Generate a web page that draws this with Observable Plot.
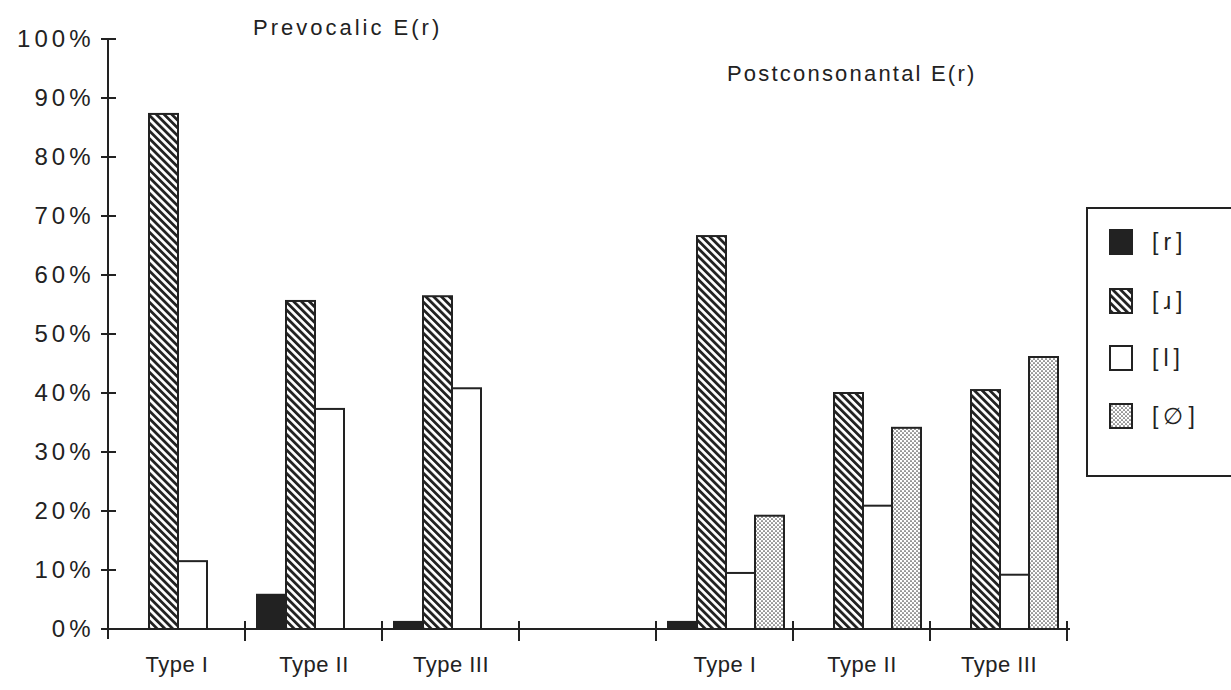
<!DOCTYPE html>
<html>
<head>
<meta charset="utf-8">
<script src="https://cdn.jsdelivr.net/npm/d3@7"></script>
<script src="https://cdn.jsdelivr.net/npm/@observablehq/plot@0.6"></script>
<style>
  body { margin: 0; background: #fff; }
  #wrap { position: relative; width: 1231px; height: 690px; overflow: hidden; font-family: "Liberation Sans", Arial, sans-serif; color: #222; }
  #chart { position: absolute; left: 0; top: 0; }
  .title { position: absolute; font-size: 22px; letter-spacing: 3px; white-space: nowrap; line-height: 26px; }
  #legend { position: absolute; left: 1086px; top: 207px; width: 170px; height: 270px; border: 2px solid #222; box-sizing: border-box; }
  .item { position: absolute; left: 21px; display: flex; align-items: center; height: 26px; }
  .item svg { display: block; }
  .item span { margin-left: 19px; font-size: 23px; letter-spacing: 5px; }
  g[aria-label="y-axis tick label"] text { letter-spacing: 4px; }
  g[aria-label="fx-axis tick label"] text { letter-spacing: 0.5px; }
</style>
</head>
<body>
<svg width="0" height="0" style="position:absolute">
  <defs>
    <pattern id="hatch" patternUnits="userSpaceOnUse" width="5.5" height="5.5" patternTransform="rotate(-45)">
      <rect width="5.5" height="5.5" fill="#fff"/>
      <rect width="2.8" height="5.5" fill="#222"/>
    </pattern>
    <pattern id="dots" patternUnits="userSpaceOnUse" width="4" height="4">
      <rect width="4" height="4" fill="#fff"/>
      <circle cx="1" cy="1" r="0.85" fill="#444"/>
      <circle cx="3" cy="3" r="0.85" fill="#444"/>
    </pattern>
  </defs>
</svg>
<div id="wrap">
  <div id="chart"></div>
  <div class="title" id="t1" style="left:253px;top:15px;"></div>
  <div class="title" id="t2" style="left:727px;top:61px;letter-spacing:2.2px;"></div>
  <div id="legend"></div>
</div>
<script>
// ---- data ----
const groups = ["pre-I", "pre-II", "pre-III", "gap", "post-I", "post-II", "post-III"];
const groupLabels = ["Type I", "Type II", "Type III", "", "Type I", "Type II", "Type III"];
const series = ["[r]", "[ɹ]", "[l]", "[∅]"];
const rValues      = [0,    5.8,  1.2,  0, 1.2,  0,    0];
const rhoticValues = [87.3, 55.6, 56.4, 0, 66.6, 40.0, 40.5];
const lValues      = [11.5, 37.3, 40.8, 0, 9.5,  20.9, 9.2];
const zeroValues   = [0,    0,    0,    0, 19.2, 34.1, 46.1];
const yTicks = [0, 10, 20, 30, 40, 50, 60, 70, 80, 90, 100];
const titles = ["Prevocalic E(r)", "Postconsonantal E(r)"];
const seriesFills = ["#222", "url(#hatch)", "#fff", "url(#dots)"];

// ---- table ----
const valueLists = [rValues, rhoticValues, lValues, zeroValues];
const rows = [];
groups.forEach((g, i) => {
  series.forEach((s, j) => {
    const v = valueLists[j][i];
    if (v > 0) rows.push({group: g, series: s, value: v});
  });
});
const labelOf = new Map(groups.map((g, i) => [g, groupLabels[i]]));

function axesRender(index, scales, values, dimensions) {
  const {fx, y} = scales;
  const {marginLeft, marginRight, marginTop, marginBottom, width, height} = dimensions;
  const innerW = width - marginLeft - marginRight;
  const yy = y || ((t) => height - marginBottom - t / 100 * (height - marginTop - marginBottom));
  const pos = (i) => (fx ? (i < groups.length ? fx(groups[i]) : fx(groups[groups.length - 1]) + (fx(groups[1]) - fx(groups[0]))) : marginLeft + i * innerW / groups.length);
  const g = d3.create("svg:g").attr("stroke", "#222").attr("fill", "none");
  const y0 = yy(0);
  g.append("line").attr("x1", marginLeft).attr("x2", marginLeft)
    .attr("y1", yy(100)).attr("y2", y0 + 10).attr("stroke-width", 2);
  for (const t of yTicks) {
    g.append("line").attr("x1", marginLeft - 7).attr("x2", marginLeft + 8)
      .attr("y1", yy(t)).attr("y2", yy(t)).attr("stroke-width", 2);
  }
  const xEnd = pos(groups.length);
  g.append("line").attr("x1", marginLeft - 7).attr("x2", xEnd + 3)
    .attr("y1", y0).attr("y2", y0).attr("stroke-width", 2);
  for (let i = 1; i <= groups.length; i++) {
    const x = pos(i);
    g.append("line").attr("x1", x).attr("x2", x)
      .attr("y1", y0 - 8).attr("y2", y0 + 12).attr("stroke-width", 2);
  }
  return g.node();
}

const chart = Plot.plot({
  width: 1231,
  height: 690,
  marginLeft: 107,
  marginRight: 164,
  marginTop: 39,
  marginBottom: 61,
  style: {fontFamily: "'Liberation Sans', Arial, sans-serif", fontSize: "22px", color: "#222", background: "transparent"},
  fx: {domain: groups, padding: 0, axis: null, label: null},
  x: {domain: series, paddingInner: 0, paddingOuter: 0.34, align: 0.55, axis: null},
  y: {domain: [0, 100], axis: null, label: null},
  color: {domain: series, range: seriesFills},
  marks: [
    Plot.barY(rows, {fx: "group", x: "series", y: "value", fill: "series", stroke: "#222", strokeWidth: 2, inset: 0}),
    Plot.frame({facet: "super", render: axesRender}),
    Plot.axisY({ticks: yTicks, tickFormat: (d) => `${d}%`, tickSize: 0, tickPadding: 14, fontSize: 24, label: null, facetAnchor: "left"}),
    Plot.axisFx({anchor: "bottom", tickSize: 0, tickPadding: 27, tickFormat: (d) => labelOf.get(d), fontSize: 22, label: null})
  ]
});
document.getElementById("chart").appendChild(chart);

document.getElementById("t1").textContent = titles[0];
document.getElementById("t2").textContent = titles[1];

// legend
const legend = document.getElementById("legend");
const rowTops = [20, 79, 136, 194];
series.forEach((s, i) => {
  const item = document.createElement("div");
  item.className = "item";
  item.style.top = rowTops[i] + "px";
  const sw = d3.create("svg").attr("width", 24).attr("height", 26);
  sw.append("rect").attr("x", 1).attr("y", 1).attr("width", 22).attr("height", 24)
    .attr("fill", seriesFills[i]).attr("stroke", "#222").attr("stroke-width", 2);
  item.appendChild(sw.node());
  const sp = document.createElement("span");
  sp.textContent = s;
  item.appendChild(sp);
  legend.appendChild(item);
});
</script>
</body>
</html>
